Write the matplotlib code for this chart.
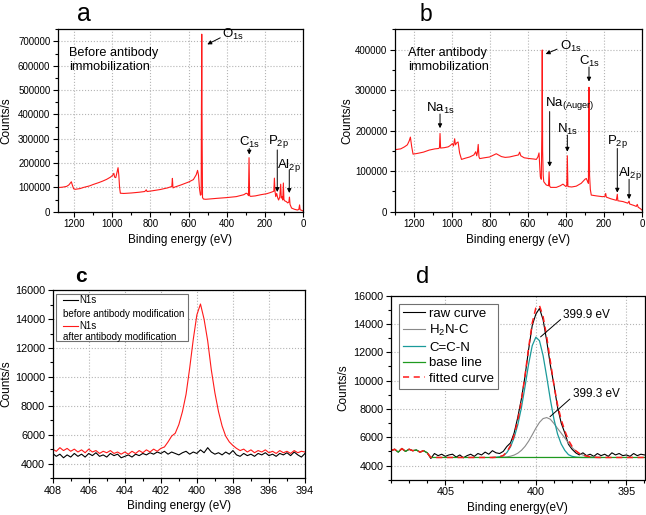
"""XPS survey spectra (a, b) and N1s high-resolution spectra (c, d)."""

import numpy as np
import matplotlib

matplotlib.use("Agg")
import matplotlib.pyplot as plt
from matplotlib.lines import Line2D
from matplotlib.patches import Rectangle
from matplotlib.ticker import MultipleLocator

plt.rcParams["font.family"] = ["Liberation Sans", "DejaVu Sans"]
plt.rcParams["mathtext.fontset"] = "custom"
plt.rcParams["mathtext.rm"] = "Liberation Sans"
plt.rcParams["mathtext.default"] = "regular"

# ---- panel a: survey before antibody immobilization (eV, counts/s)
energy_a = [1285, 1260, 1240, 1228, 1220, 1215, 1210, 1203, 1195, 1170, 1150, 1120, 1100, 1070,
            1050, 1030, 1010, 998, 992, 988, 982, 976, 970, 966, 962, 958, 940, 900, 860, 830,
            822, 818, 790, 750, 710, 695, 688, 685, 682, 670, 640, 600, 575, 560, 553, 548, 543,
            538, 534, 533, 531, 529, 527, 522, 510, 480, 450, 400, 350, 310, 298, 292, 286, 283,
            280, 275, 250, 220, 190, 170, 160, 153, 150, 147, 143, 138, 133, 128, 122, 117, 114,
            110, 106, 103, 100, 95, 88, 80, 74, 71, 68, 60, 45, 30, 22, 18, 15, 8, 0]
counts_a = [99000, 101000, 104000, 110000, 118000, 123000, 110000, 94000, 92000, 95000, 100000,
            106000, 112000, 120000, 126000, 133000, 142000, 150000, 158000, 142000, 140000,
            160000, 181000, 150000, 100000, 76000, 75000, 77000, 80000, 83000, 90000, 83000,
            86000, 91000, 98000, 102000, 104000, 137000, 98000, 102000, 110000, 122000, 132000,
            152000, 170000, 150000, 95000, 68000, 70000, 360000, 730000, 300000, 58000, 52000,
            51000, 53000, 55000, 58000, 62000, 70000, 76000, 74000, 66000, 222000, 66000, 63000,
            65000, 70000, 74000, 79000, 82000, 84000, 138000, 85000, 62000, 75000, 58000, 48000,
            60000, 113000, 56000, 62000, 48000, 118000, 50000, 44000, 42000, 36000, 40000, 60000,
            30000, 15000, 10000, 7000, 9000, 28000, 8000, 6000, 3000]

# ---- panel b: survey after antibody immobilization
energy_b = [1300, 1270, 1250, 1235, 1225, 1219, 1212, 1205, 1180, 1150, 1120, 1090, 1070, 1066,
            1063, 1060, 1040, 1020, 1010, 998, 992, 986, 982, 975, 968, 960, 950, 930, 907, 885,
            875, 870, 866, 862, 858, 854, 830, 802, 780, 767, 740, 720, 697, 670, 650, 644, 638,
            620, 591, 570, 556, 548, 542, 538, 535, 530, 527, 525, 523, 520, 517, 504, 492, 489,
            486, 481, 451, 430, 416, 400, 396, 393, 390, 370, 346, 320, 300, 293, 287, 282, 279,
            276, 272, 267, 240, 207, 195, 191, 188, 165, 135, 130, 127, 100, 75, 68, 65, 40, 30,
            25, 20, 10, 0]
counts_b = [153000, 155000, 160000, 165000, 175000, 184000, 160000, 142000, 144000, 147000,
            152000, 155000, 156000, 158000, 193000, 157000, 158000, 160000, 163000, 168000,
            162000, 180000, 165000, 170000, 172000, 145000, 129000, 132000, 135000, 140000,
            148000, 138000, 147000, 166000, 135000, 131000, 133000, 135000, 140000, 143000,
            136000, 134000, 135000, 138000, 140000, 147000, 138000, 133000, 131000, 130000,
            129000, 135000, 145000, 110000, 86000, 80000, 200000, 399000, 150000, 90000, 74000,
            66000, 64000, 98000, 63000, 60000, 60000, 64000, 68000, 62000, 65000, 138000, 62000,
            61000, 63000, 70000, 80000, 82000, 75000, 70000, 307000, 90000, 55000, 41000, 39000,
            37000, 38000, 45000, 36000, 32000, 28000, 43000, 27000, 25000, 21000, 26000, 19000,
            15000, 13000, 18000, 11000, 8000, 4000]

# ---- panels c, d: N1s region, sampled every 0.2 eV from 408 to 394 eV
energy_hr = np.round(np.arange(408.0, 393.9, -0.2), 1)
n1s_before = [4700, 4500, 4650, 4400, 4600, 4450, 4700, 4500, 4650, 4450,
              4700, 4550, 4750, 4500, 4600, 4450, 4700, 4550, 4650, 4400,
              4500, 4600, 4450, 4650, 4550, 4700, 4600, 4750, 4650, 4800,
              4700, 4850, 4650, 4800, 4700, 4600, 4750, 4850, 4650, 4800,
              4700, 4950, 4750, 5100, 4800, 4650, 4750, 4600, 4800, 4650,
              4900, 4600, 4500, 4700, 4550, 4650, 4500, 4700, 4600, 4750,
              4550, 4650, 4500, 4700, 4600, 4750, 4550, 4800, 4600, 4450,
              4700]
n1s_after = [5000, 4850, 5100, 4900, 5050, 4850, 5000, 4800, 4950, 4750,
             5000, 4800, 4900, 4700, 4850, 4750, 4900, 4700, 4800, 4650,
             4800, 4650, 4850, 4700, 4900, 4750, 4950, 4800, 5000, 4850,
             5050, 5150, 5500, 5900, 6100, 6700, 7600, 8800, 10600, 12600,
             14300, 15050, 14000, 12500, 10500, 8900, 7600, 6600, 5900, 5500,
             5250, 5050, 4900, 5000, 4800, 4950, 4750, 4900, 4800, 4950,
             4750, 4850, 4700, 4900, 4750, 4850, 4700, 4900, 4750, 4850,
             4800]
raw_d = [5050, 5150, 4950, 5200, 5000, 5150, 5050, 5100, 4950, 5050,
         4900, 4500, 4850, 4700, 4800, 4650, 4750, 4800, 4600, 4750,
         4550, 4700, 4800, 4650, 4850, 4750, 4950, 4800, 5050, 4900,
         4850, 5000, 5350, 5600, 6300, 7400, 8700, 10300, 12200, 13900,
         14700, 15100, 14300, 12800, 11100, 9700, 8100, 7000, 6300, 5500,
         5150, 4900, 4750, 4900, 4700, 4800, 4650, 4850, 4700, 4800,
         4650, 4900, 4750, 4850, 4700, 4750, 4650, 4850, 4700, 4800,
         4750]
n_base_follow = 11          # baseline follows the data from 408.0 to 406.0 eV
base_level = 4570
base_step_ev = 405.8

# peak-fit components, 402.4 -> 396.4 eV every 0.2 eV
energy_fit = np.round(np.arange(402.4, 396.3, -0.2), 1)
h2n_c = [4570, 4570, 4580, 4590, 4615, 4660, 4740, 4870, 5070, 5350,
         5720, 6170, 6640, 7050, 7320, 7390, 7270, 6970, 6620, 6290,
         5950, 5590, 5270, 5020, 4850, 4740, 4665, 4620, 4590, 4575, 4570]
ccn = [4570, 4585, 4620, 4690, 4920, 5320, 5970, 6870, 8070, 9570,
       11170, 12470, 13070, 12820, 11770, 10270, 8670, 7270, 6220, 5520,
       5070, 4770, 4650, 4600, 4575, 4570, 4570, 4570, 4570, 4570, 4570]
fitted = [4570, 4585, 4630, 4710, 4965, 5410, 6140, 7170, 8570, 10350,
          12320, 14070, 15140, 15300, 14520, 13090, 11370, 9670, 8270, 7240,
          6450, 5790, 5350, 5050, 4855, 4740, 4665, 4620, 4590, 4575, 4570]

W, H = 646, 515
RED = "#ff1a1a"
PEAK_FS = 9.5


def px_axes(fig, left, top, right, bottom):
    return fig.add_axes([left / W, 1 - bottom / H, (right - left) / W, (bottom - top) / H])


def style(ax, xmajor, xminor, ymajor, yminor, tick_size, ylabel_x):
    ax.xaxis.set_major_locator(MultipleLocator(xmajor))
    ax.xaxis.set_minor_locator(MultipleLocator(xminor))
    ax.yaxis.set_major_locator(MultipleLocator(ymajor))
    ax.yaxis.set_minor_locator(MultipleLocator(yminor))
    ax.ticklabel_format(axis="y", style="plain", useOffset=False)
    ax.tick_params(which="both", direction="out", top=False, right=False,
                   labelsize=tick_size, width=0.8, pad=2)
    ax.tick_params(which="major", length=3.5)
    ax.tick_params(which="minor", length=2)
    ax.grid(True, which="major", linestyle=":", color="#b4b4b4", linewidth=0.8)
    ax.set_axisbelow(True)
    for sp in ax.spines.values():
        sp.set_linewidth(0.9)
    ax.set_ylabel("Counts/s", fontsize=8.5)
    ax.yaxis.set_label_coords(ylabel_x, 0.5)


def arrow(ax, head, tail):
    ax.annotate("", xy=head, xytext=tail,
                arrowprops=dict(arrowstyle="-|>", color="black", lw=0.7,
                                mutation_scale=6, shrinkA=0, shrinkB=0))


fig = plt.figure(figsize=(W / 100, H / 100), dpi=100)

# ---------------- a
ax = px_axes(fig, 58, 29.3, 303, 211.7)
ax.plot(energy_a, counts_a, color=RED, lw=0.8)
ax.set_xlim(1285, 0)
ax.set_ylim(0, 750000)
style(ax, 200, 100, 100000, 50000, 7, -0.188)
ax.set_xlabel("Binding energy (eV)", fontsize=8.5, labelpad=3)
ax.text(0.045, 0.905, "Before antibody\nimmobilization", transform=ax.transAxes,
        fontsize=9.2, va="top", ha="left", linespacing=1.25)
ax.text(425, 727000, "O$_{1s}$", fontsize=PEAK_FS, ha="left", va="center")
arrow(ax, (502, 688000), (434, 715000))
ax.text(282, 283000, "C$_{1s}$", fontsize=PEAK_FS, ha="center", va="center")
arrow(ax, (282, 235000), (282, 260000))
ax.text(128, 287000, "P$_{2p}$", fontsize=PEAK_FS, ha="center", va="center")
arrow(ax, (135, 81000), (135, 254000))
ax.text(72, 192000, "Al$_{2p}$", fontsize=PEAK_FS, ha="center", va="center")
arrow(ax, (72, 77000), (72, 172000))

# ---------------- b
ax = px_axes(fig, 395, 29.3, 642, 211.7)
ax.plot(energy_b, counts_b, color=RED, lw=0.8)
ax.set_xlim(1300, 0)
ax.set_ylim(0, 450000)
style(ax, 200, 100, 100000, 50000, 7, -0.17)
ax.set_xlabel("Binding energy (eV)", fontsize=8.5, labelpad=3)
ax.text(0.053, 0.905, "After antibody\nimmobilization", transform=ax.transAxes,
        fontsize=9.2, va="top", ha="left", linespacing=1.25)
ax.text(433, 407000, "O$_{1s}$", fontsize=PEAK_FS, ha="left", va="center")
arrow(ax, (507, 389000), (447, 401000))
ax.text(275, 370000, "C$_{1s}$", fontsize=PEAK_FS, ha="center", va="center")
arrow(ax, (279, 321000), (279, 357000))
ax.text(1062, 255000, "Na$_{1s}$", fontsize=PEAK_FS, ha="center", va="center")
arrow(ax, (1063, 206000), (1063, 241000))
ax.text(381, 266000, "Na$_{(Auger)}$", fontsize=PEAK_FS, ha="center", va="center")
arrow(ax, (486, 111000), (486, 247000))
ax.text(389, 202000, "N$_{1s}$", fontsize=PEAK_FS, ha="center", va="center")
arrow(ax, (393, 148000), (393, 189000))
ax.text(130, 173000, "P$_{2p}$", fontsize=PEAK_FS, ha="center", va="center")
arrow(ax, (130, 47000), (130, 156000))
ax.text(65, 95000, "Al$_{2p}$", fontsize=PEAK_FS, ha="center", va="center")
arrow(ax, (68, 31000), (68, 80000))

# ---------------- c
ax = px_axes(fig, 52.7, 290.3, 305, 478)
ax.plot(energy_hr, n1s_before, color="black", lw=0.8)
ax.plot(energy_hr, n1s_after, color=RED, lw=0.8)
ax.set_xlim(408, 394)
ax.set_ylim(3000, 16000)
style(ax, 2, 1, 2000, 1000, 7.8, -0.161)
ax.set_xlabel("Binding energy (eV)", fontsize=8.5, labelpad=3)
ax.add_patch(Rectangle((0.013, 0.7315), 0.522, 0.2465, transform=ax.transAxes,
                       facecolor="white", edgecolor="#707070", lw=0.8, zorder=5))
for y, color in [(0.9466, "black"), (0.808, RED)]:
    ax.add_line(Line2D([0.0396, 0.1015], [y, y], transform=ax.transAxes,
                       color=color, lw=0.8, zorder=6))
    ax.text(0.105, y, "N1s", transform=ax.transAxes, fontsize=7, va="center", zorder=6)
ax.text(0.0396, 0.875, "before antibody modification", transform=ax.transAxes,
        fontsize=7, va="center", zorder=6)
ax.text(0.0396, 0.75, "after antibody modification", transform=ax.transAxes,
        fontsize=7, va="center", zorder=6)

# ---------------- d
ax = px_axes(fig, 391, 295.7, 644.5, 479.7)
base_x = np.concatenate([energy_hr[:n_base_follow], [base_step_ev, 394.0]])
base_y = np.concatenate([raw_d[:n_base_follow], [base_level, base_level]])
fit_x = np.concatenate([energy_hr[:n_base_follow], [base_step_ev], energy_fit, [394.0]])
fit_y = np.concatenate([raw_d[:n_base_follow], [base_level], fitted, [base_level]])
ax.plot(energy_hr, raw_d, color="black", lw=0.8, label="raw curve")
ax.plot(energy_fit, h2n_c, color="#8a8a8a", lw=0.8, label="H$_2$N-C")
ax.plot(energy_fit, ccn, color="#1a9a9a", lw=0.9, label="C=C-N")
ax.plot(base_x, base_y, color="#1f9a1f", lw=0.9, label="base line")
ax.plot(fit_x, fit_y, color=RED, lw=1.1, ls=(0, (4, 3)), label="fitted curve")
ax.set_xlim(408, 394)
ax.set_ylim(3000, 16000)
style(ax, 5, 1, 2000, 1000, 7.8, -0.166)
ax.set_xlabel("Binding energy(eV)", fontsize=8.5, labelpad=3)
leg = ax.legend(loc="upper left", bbox_to_anchor=(0.031, 0.957), borderaxespad=0,
                fontsize=9.5, handlelength=1.65, handletextpad=0.35, labelspacing=0.25,
                borderpad=0.3, fancybox=False, framealpha=1)
leg.get_frame().set_edgecolor("#707070")
leg.get_frame().set_linewidth(0.8)
ax.annotate("399.9 eV", xy=(399.74, 13090), xytext=(398.48, 14660), fontsize=8.5,
            ha="left", va="center",
            arrowprops=dict(arrowstyle="-", color="black", lw=0.7, shrinkA=0, shrinkB=0,
                            relpos=(0, 0.3)))
ax.annotate("399.3 eV", xy=(399.22, 7450), xytext=(397.97, 9040), fontsize=8.5,
            ha="left", va="center",
            arrowprops=dict(arrowstyle="-", color="black", lw=0.7, shrinkA=0, shrinkB=0,
                            relpos=(0, 0.3)))

# panel letters
fig.text(83.5 / W, 1 - 21 / H, "a", fontsize=18, ha="center", va="baseline")
fig.text(425.5 / W, 1 - 21 / H, "b", fontsize=16.5, ha="center", va="baseline")
fig.text(80.7 / W, 1 - 282 / H, "c", fontsize=15, fontweight="bold", ha="center", va="baseline")
fig.text(423 / W, 1 - 283 / H, "d", fontsize=17, ha="center", va="baseline")

fig.savefig("out.png", dpi=100)
plt.close(fig)
